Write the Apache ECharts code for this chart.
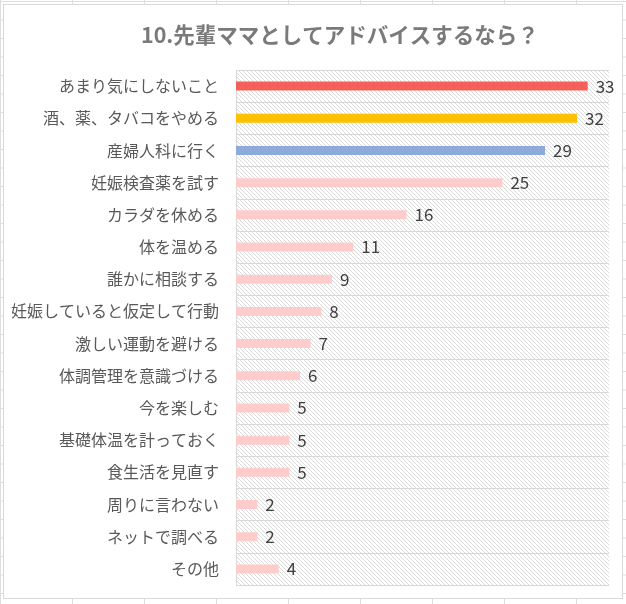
<!DOCTYPE html>
<html><head><meta charset="utf-8">
<script src="https://cdn.jsdelivr.net/npm/echarts@6/dist/echarts.min.js"></script>
<style>
html,body{margin:0;padding:0;width:626px;height:604px;overflow:hidden;background:#fff;}
body{background-image:linear-gradient(to right,#dedede 1px,transparent 1px),linear-gradient(to bottom,#dedede 1px,transparent 1px);background-size:72px 18.5px;background-position:0 1px;}
#frame{position:absolute;left:3px;top:4px;width:620px;height:595px;background:#fff;border:1px solid #d9d9d9;box-sizing:border-box;}
#chart{position:absolute;left:0;top:0;width:626px;height:604px;}
</style></head>
<body>
<div id="frame"></div>
<div id="chart"></div>
<script>
const titleText = '10.先輩ママとしてアドバイスするなら？';
const categories = ['あまり気にしないこと','酒、薬、タバコをやめる','産婦人科に行く','妊娠検査薬を試す','カラダを休める','体を温める','誰かに相談する','妊娠していると仮定して行動','激しい運動を避ける','体調管理を意識づける','今を楽しむ','基礎体温を計っておく','食生活を見直す','周りに言わない','ネットで調べる','その他'];
const values = [33,32,29,25,16,11,9,8,7,6,5,5,5,2,2,4];
const barColors = ['#F4605A','#FFC000','#8EA9DB'];
const defaultColor = '#FFCCCC';

const pc = document.createElement('canvas');
pc.width = 4; pc.height = 4;
const pctx = pc.getContext('2d');
pctx.fillStyle = '#ffffff'; pctx.fillRect(0,0,4,4);
pctx.fillStyle = '#dadada';
for (let i=0;i<4;i++) pctx.fillRect(i,i,1,1);

const chart = echarts.init(document.getElementById('chart'), null, {renderer:'canvas'});
chart.setOption({
  backgroundColor: 'transparent',
  animation: false,
  title: {
    text: titleText, left: 136, top: 19,
    textStyle: {fontFamily:'Noto Sans CJK JP', fontSize: 21.5, fontWeight: 'bold', color: '#7a7a7a'}
  },
  grid: {left: 236, right: 17, top: 70, bottom: 19, show: true, borderWidth: 0,
    backgroundColor: {image: pc, repeat: 'repeat'}},
  xAxis: {type: 'value', min: 0, max: 35, show: false},
  yAxis: {
    type: 'category', data: categories, inverse: true,
    axisTick: {show: false},
    axisLine: {lineStyle: {color: '#d9d9d9'}},
    splitLine: {show: true, interval: 0, lineStyle: {color: '#d9d9d9', width: 1}},
    axisLabel: {interval: 0, margin: 17, fontFamily: 'Noto Sans CJK JP', fontSize: 16, color: '#595959'}
  },
  series: [{
    type: 'bar', data: values.map((v,i)=>({value:v, itemStyle:{color: barColors[i] || defaultColor}})),
    barWidth: 9,
    label: {show: true, position: 'right', distance: 8, fontFamily: 'Noto Sans CJK JP', fontSize: 17, color: '#404040'}
  }]
});
</script>
</body></html>
